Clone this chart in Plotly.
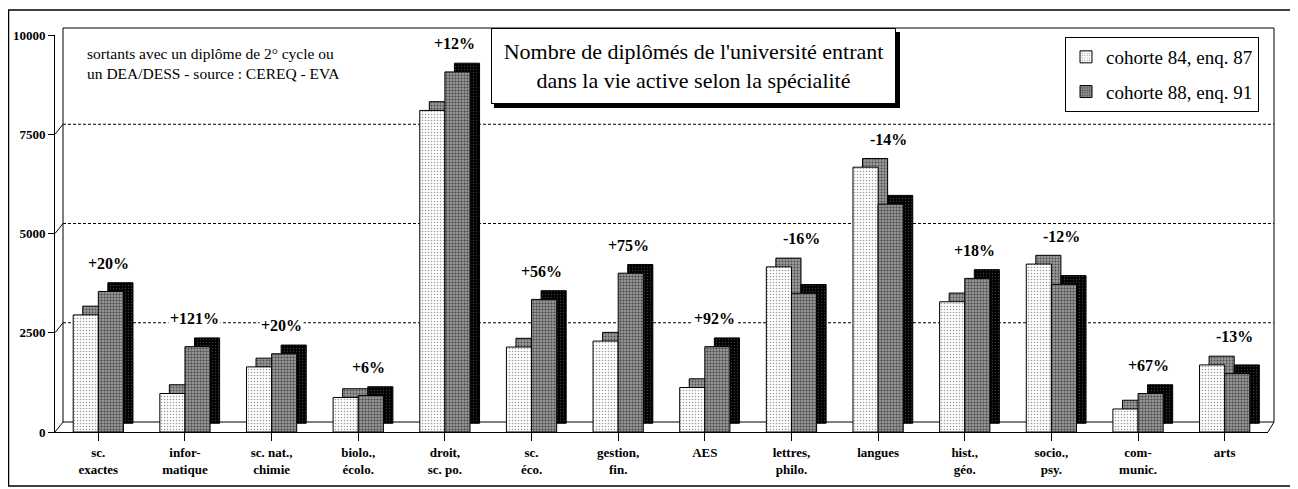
import plotly.graph_objects as go

# categories (two-line tick labels as in the original)
categories = ["sc.<br>exactes", "infor-<br>matique", "sc. nat.,<br>chimie", "biolo.,<br>écolo.",
              "droit,<br>sc. po.", "sc.<br>éco.", "gestion,<br>fin.", "AES", "lettres,<br>philo.",
              "langues", "hist.,<br>géo.", "socio.,<br>psy.", "com-<br>munic.", "arts"]

cohorte_84 = [2950, 970, 1640, 870, 8100, 2140, 2290, 1120, 4160, 6670, 3280, 4230, 580, 1690]
cohorte_88 = [3540, 2150, 1970, 920, 9070, 3340, 4000, 2150, 3495, 5740, 3870, 3720, 970, 1470]
evolution = ["+20%", "+121%", "+20%", "+6%", "+12%", "+56%", "+75%", "+92%",
             "-16%", "-14%", "+18%", "-12%", "+67%", "-13%"]

y_ticks = [0, 2500, 5000, 7500, 10000]
y_ticktext = ["0", "2500", "5000", "7500", "10000"]
grid_ticks = [2500, 5000, 7500]

SERIF = "Liberation Serif"
BAR_W = 0.29      # width of one bar in category units
DX = 0.11         # fake 3D depth of the bars, horizontal
DY = 220          # fake 3D depth of the bars, vertical (value units)
WALL_DY = 252     # back wall is ~10px above the front axis

# page body has an 8px margin, so the figure is shrunk and shifted to match
OFF = 8
W, H = 1290, 481
ML, MR, MT, MB = 47, 24, 20, 57
PW, PH = W - ML - MR, H - MT - MB


def px(x):
    return (x - OFF - ML) / PW


def py(y):
    return (H - MB - (y - OFF)) / PH


fig = go.Figure()

series = [
    ("cohorte 84, enq. 87", cohorte_84, -BAR_W,
     dict(shape=".", fgcolor="#333333", bgcolor="white", size=3, solidity=0.22),
     dict(shape=".", fgcolor="black", bgcolor="#9a9a9a", size=3, solidity=0.35)),
    ("cohorte 88, enq. 91", cohorte_88, 0.0,
     dict(shape=".", fgcolor="black", bgcolor="#a8a8a8", size=3, solidity=0.5),
     dict(shape=".", fgcolor="#777777", bgcolor="black", size=3, solidity=0.15)),
]

x_idx = list(range(len(categories)))

for name, vals, off, front_pat, side_pat in series:
    # side / top faces drawn first, shifted back and up
    fig.add_trace(go.Bar(
        x=x_idx, y=vals, base=[DY] * len(vals), offset=off + DX, width=BAR_W,
        marker=dict(color=side_pat["bgcolor"], pattern=side_pat,
                    line=dict(color="black", width=1)),
        showlegend=False, hoverinfo="skip",
    ))
    fig.add_trace(go.Bar(
        x=x_idx, y=vals, offset=off, width=BAR_W, name=name, legendgroup=name,
        marker=dict(color="white", pattern=front_pat,
                    line=dict(color="black", width=1)),
    ))

# percentage labels above each pair
for i, txt in enumerate(evolution):
    fig.add_annotation(
        x=i, y=max(cohorte_84[i], cohorte_88[i]), xref="x", yref="y",
        text=txt, showarrow=False, xshift=10, yshift=28, bgcolor="white",
        xanchor="center", yanchor="middle",
        font=dict(family=SERIF, size=16, color="black", weight="bold"),
    )

# back wall, its dashed grid and the floor / tick connectors
fig.add_shape(type="rect", xref="paper", yref="paper", layer="below",
              x0=px(63), x1=px(1274), y0=py(422), y1=py(28),
              line=dict(color="black", width=1))
for v in grid_ticks:
    fig.add_shape(type="line", xref="paper", yref="y", layer="below",
                  x0=px(63), x1=px(1274), y0=v + WALL_DY, y1=v + WALL_DY,
                  line=dict(color="black", width=1, dash="3px,2px"))
for v in y_ticks:
    fig.add_shape(type="line", xref="paper", yref="y", layer="below",
                  x0=px(55), x1=px(63), y0=v, y1=v + WALL_DY,
                  line=dict(color="black", width=1))
fig.add_shape(type="line", xref="paper", yref="y", layer="below",
              x0=px(1268), x1=px(1274), y0=0, y1=WALL_DY,
              line=dict(color="black", width=1))

# title box with drop shadow
fig.add_shape(type="rect", xref="paper", yref="paper",
              x0=px(494), x1=px(900), y0=py(108), y1=py(32),
              fillcolor="black", line=dict(width=0))
fig.add_annotation(
    x=px(693), y=py(66), xref="paper", yref="paper", showarrow=False,
    xanchor="center", yanchor="middle",
    text="Nombre de diplômés de l'université entrant<br>dans la vie active selon la spécialité",
    font=dict(family=SERIF, size=22, color="black"),
    bgcolor="white", bordercolor="black", borderwidth=1, borderpad=4,
    width=395, height=66,
)

fig.add_annotation(
    x=px(85), y=py(43), xref="paper", yref="paper", xanchor="left", yanchor="top",
    showarrow=False, align="left",
    text="sortants avec un diplôme de 2° cycle ou<br>un DEA/DESS - source : CEREQ - EVA",
    font=dict(family=SERIF, size=15.5, color="black"),
)

# outer frame
fig.add_shape(type="rect", xref="paper", yref="paper",
              x0=px(OFF + 0.5), x1=px(1292), y0=py(486), y1=py(10),
              line=dict(color="black", width=1.5))

fig.update_layout(
    width=W, height=H,
    margin=dict(l=ML, r=MR, t=MT, b=MB, autoexpand=False),
    paper_bgcolor="white", plot_bgcolor="rgba(0,0,0,0)",
    barmode="overlay",
    font=dict(family=SERIF, color="black"),
    xaxis=dict(domain=[0, px(1268)], tickvals=x_idx, ticktext=categories,
               range=[-0.5, len(categories) - 0.5],
               showline=True, linecolor="black", linewidth=1, ticks="outside",
               ticklen=8, tickcolor="black", showgrid=False, zeroline=False,
               tickfont=dict(family=SERIF, size=13, color="black", weight="bold")),
    yaxis=dict(domain=[0, py(35)], range=[0, 10000], tickvals=y_ticks, ticktext=y_ticktext,
               showline=True, linecolor="black", linewidth=1, ticks="outside",
               ticklen=6, tickcolor="black", showgrid=False, zeroline=False,
               tickfont=dict(family=SERIF, size=13, color="black", weight="bold")),
    legend=dict(x=px(1065), y=py(37), xanchor="left", yanchor="top",
                bgcolor="white", bordercolor="black", borderwidth=1,
                font=dict(family=SERIF, size=19, color="black"),
                itemwidth=30, traceorder="grouped", tracegroupgap=7),
)

fig.write_html("out.html")
